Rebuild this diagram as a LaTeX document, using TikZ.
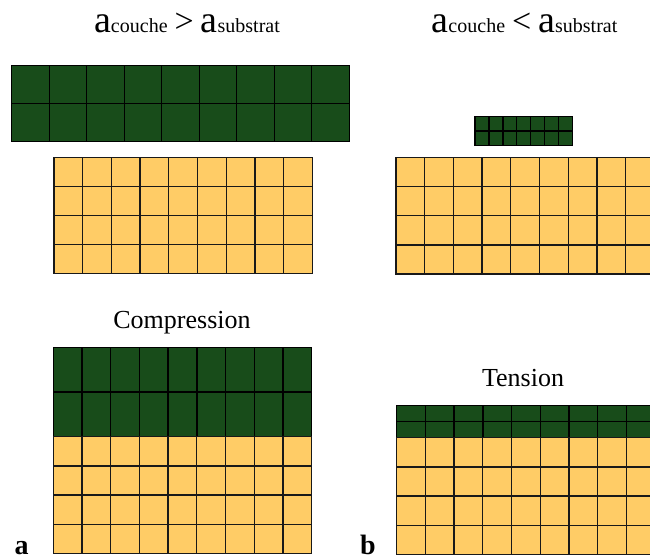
\documentclass[tikz,border=0pt]{standalone}
\usepackage{fontspec}
\setmainfont{Liberation Serif}
\definecolor{vert}{RGB}{24,76,26}
\definecolor{jaune}{RGB}{255,204,102}

\begin{document}
\begin{tikzpicture}[x=1pt, y=-1pt,
                    couche/.style={fill=vert, draw=black, line width=1.4pt},
                    substrat/.style={fill=jaune, draw=black!90, line width=1.3pt},
                    titre/.style={anchor=base, inner sep=0pt},
                    legende/.style={anchor=base, inner sep=0pt, font=\fontsize{26}{26}\selectfont},
                    lettre/.style={anchor=base, inner sep=0pt, font=\fontsize{28}{28}\selectfont\bfseries}
   ]
   \useasboundingbox (0,0) rectangle (650,559);
   \clip (0,0) rectangle (650,559);
   % titres
   \node[titre] (t1) at (187,32.3) {{\fontsize{38}{38}\selectfont a}{\fontsize{20}{20}\selectfont couche}\hspace{7pt}{\fontsize{34}{34}\selectfont >}\hspace{7pt}{\fontsize{38}{38}\selectfont a}{\fontsize{20}{20}\selectfont substrat}};
   \node[titre] (t2) at (524.5,32.3) {{\fontsize{38}{38}\selectfont a}{\fontsize{20}{20}\selectfont couche}\hspace{7pt}{\fontsize{34}{34}\selectfont <}\hspace{7pt}{\fontsize{38}{38}\selectfont a}{\fontsize{20}{20}\selectfont substrat}};
   \node[legende] (comp) at (182,328) {Compression};
   \node[legende] (tens) at (523,386.7) {Tension};
   \node[lettre] (la) at (21.5,554) {a};
   \node[lettre] (lb) at (368,554) {b};

   % a couche > a substrat : avant
   \foreach \i in {0,...,8}
     \foreach \j in {0,1}
       \draw[couche] ({11.7+37.5*\i},{65.7+38*\j}) rectangle ++(37.5,38);
   \foreach \i in {0,...,8}
     \foreach \j in {0,...,3}
       \draw[substrat] ({54+28.7*\i},{157.3+29*\j}) rectangle ++(28.7,29);

   % a couche < a substrat : avant
   \foreach \i in {0,...,6}
     \foreach \j in {0,1}
       \draw[couche] ({475+13.9*\i},{116.3+14.7*\j}) rectangle ++(13.9,14.7);
   \foreach \i in {0,...,8}
     \foreach \j in {0,...,3}
       \draw[substrat] ({396+28.7*\i},{157.3+29.2*\j}) rectangle ++(28.7,29.2);

   % compression
   \foreach \i in {0,...,8}
     \foreach \j in {0,1}
       \draw[couche] ({53.3+28.7*\i},{347.3+44.7*\j}) rectangle ++(28.7,44.7);
   \foreach \i in {0,...,8}
     \foreach \j in {0,...,3}
       \draw[substrat] ({53.3+28.7*\i},{436.7+29.15*\j}) rectangle ++(28.7,29.15);

   % tension
   \foreach \i in {0,...,8}
     \foreach \j in {0,1}
       \draw[couche] ({396.7+28.7*\i},{405.7+16*\j}) rectangle ++(28.7,16);
   \foreach \i in {0,...,8}
     \foreach \j in {0,...,3}
       \draw[substrat] ({396.7+28.7*\i},{437.7+29.15*\j}) rectangle ++(28.7,29.15);
\end{tikzpicture}
\end{document}
